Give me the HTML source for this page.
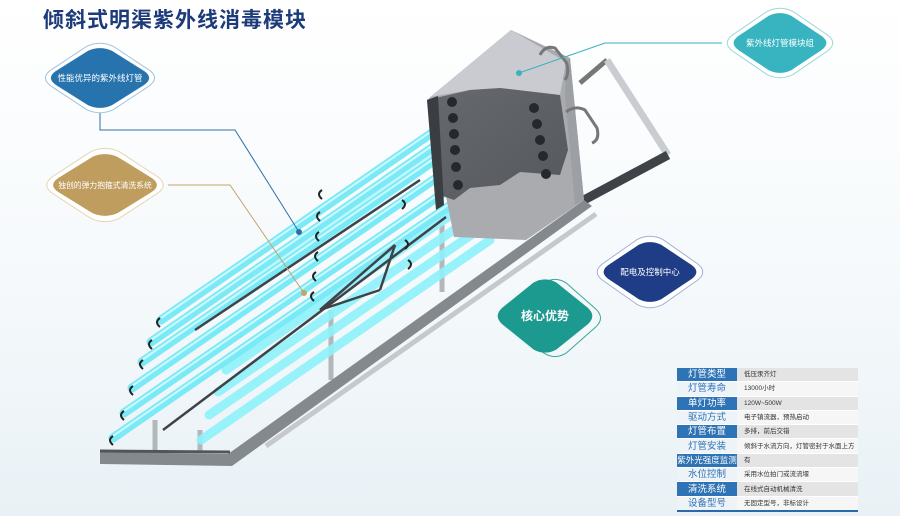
<!DOCTYPE html>
<html><head><meta charset="utf-8"><style>
body{margin:0;width:900px;height:516px;overflow:hidden;background:linear-gradient(180deg,#ffffff 0%,#f5f9fb 55%,#e9f1f6 100%);font-family:"Liberation Sans","Noto Sans CJK SC",sans-serif;position:relative}
.t{position:absolute;left:43px;top:4px;font-size:21px;font-weight:bold;color:#1d3a7a;letter-spacing:1px}
table{position:absolute;left:677px;top:368px;width:181px;border-collapse:collapse;border-bottom:2px solid #2a6aa8}
td{height:13.3px;padding:0;border-bottom:1px solid #fff;white-space:nowrap;line-height:13px}
td.l{width:60px;text-align:center;color:#fff;background:#2e73b5;font-size:9.5px}
td.r{padding-left:7px;color:#333;background:#e4e4e4;font-size:6.5px}
tr:nth-child(even) td.l{background:#eef3f8;color:#2e73b5}
tr:nth-child(even) td.r{background:#f6f6f6}
</style></head><body>
<svg width="900" height="516" style="position:absolute;left:0;top:0">
<defs>
<path id="d" vector-effect="non-scaling-stroke" d="M-0.82,-0.22 Q-1,0 -0.82,0.22 L-0.22,0.88 Q0,1.05 0.22,0.88 L0.82,0.22 Q1,0 0.82,-0.22 L0.22,-0.88 Q0,-1.05 -0.22,-0.88 Z"/>
<linearGradient id="box" x1="0" y1="0" x2="1" y2="1"><stop offset="0" stop-color="#66696e"/><stop offset="1" stop-color="#55585d"/></linearGradient>
</defs>
<!-- right frame -->
<line x1="580" y1="83" x2="607" y2="60" stroke="#777" stroke-width="5"/>
<line x1="607" y1="60" x2="668" y2="155" stroke="#c9ccd0" stroke-width="7"/>
<line x1="584" y1="200" x2="668" y2="155" stroke="#3f4246" stroke-width="9"/>
<!-- legs -->
<g stroke="#b3b7bb" stroke-width="5"><line x1="331" y1="310" x2="331" y2="380"/><line x1="442" y1="225" x2="442" y2="292"/><line x1="155" y1="420" x2="155" y2="452"/><line x1="200" y1="430" x2="200" y2="452"/></g>
<!-- tubes -->
<g stroke="#8ef2fb" stroke-width="9" stroke-linecap="round" opacity=".9">
<line x1="201" y1="440" x2="490" y2="240"/><line x1="209" y1="415" x2="490" y2="222"/><line x1="218" y1="392" x2="490" y2="205"/><line x1="226" y1="370" x2="490" y2="188"/>
</g>
<g stroke="#b4f7fc" stroke-width="4" opacity=".8">
<line x1="240" y1="300" x2="440" y2="160"/><line x1="250" y1="280" x2="440" y2="150"/><line x1="230" y1="320" x2="440" y2="175"/>
</g>
<g stroke="#6ee9f6" stroke-width="9" stroke-linecap="round" opacity=".9">
<line x1="113" y1="438" x2="455" y2="202"/><line x1="124" y1="413" x2="455" y2="185"/><line x1="132" y1="388" x2="455" y2="165"/><line x1="142" y1="362" x2="455" y2="146"/><line x1="151" y1="342" x2="455" y2="132"/><line x1="161" y1="320" x2="455" y2="117"/>
</g>
<g stroke="#d8fbff" stroke-width="2" opacity=".9">
<line x1="113" y1="436" x2="455" y2="200"/><line x1="124" y1="411" x2="455" y2="183"/><line x1="132" y1="386" x2="455" y2="163"/><line x1="142" y1="360" x2="455" y2="144"/><line x1="151" y1="340" x2="455" y2="130"/><line x1="161" y1="318" x2="455" y2="115"/>
</g>
<!-- rods -->
<g stroke="#3e4348" stroke-width="2.5"><line x1="163" y1="430" x2="446" y2="217"/><line x1="195" y1="330" x2="420" y2="180"/><line x1="320" y1="310" x2="380" y2="290"/><line x1="320" y1="310" x2="395" y2="245"/><line x1="380" y1="290" x2="395" y2="245"/></g>
<!-- clips -->
<g stroke="#222" stroke-width="2" fill="none">
<path d="M322,190 q-6,4 0,9"/><path d="M320,212 q-6,4 0,9"/><path d="M319,232 q-6,4 0,9"/><path d="M318,252 q-6,4 0,9"/><path d="M316,272 q-6,4 0,9"/><path d="M314,292 q-6,4 0,9"/>
<path d="M160,318 q-6,4 0,9"/><path d="M152,340 q-6,4 0,9"/><path d="M143,360 q-6,4 0,9"/><path d="M133,386 q-6,4 0,9"/><path d="M124,411 q-6,4 0,9"/><path d="M113,436 q-6,4 0,9"/>
<path d="M405,240 q6,4 0,9"/><path d="M408,260 q6,4 0,9"/><path d="M402,200 q6,4 0,9"/>
</g>
<!-- front rails -->
<polygon points="100,452 228,454 584,200 592,206 232,466 100,464" fill="#84898e"/>
<line x1="100" y1="451" x2="230" y2="452" stroke="#555" stroke-width="3"/>
<line x1="266" y1="446" x2="596" y2="214" stroke="#c6c9cc" stroke-width="5"/>
<!-- box -->
<polygon points="427,100 511,30 570,58 584,200 526,240 454,237" fill="#a9abaf"/>
<polygon points="430,97 511,30 566,62 560,95 500,88 470,90" fill="#c9cbd0"/>
<polygon points="566,62 570,58 584,200 575,205 565,95" fill="#9c9fa3"/>
<polygon points="427,100 470,90 500,88 560,95 568,150 560,175 520,172 500,185 470,188 454,200 440,195" fill="url(#box)"/>
<polygon points="427,100 438,96 444,205 436,210" fill="#3a3d41"/>
<g fill="#26292c"><circle cx="452" cy="102" r="5"/><circle cx="453" cy="118" r="5"/><circle cx="454" cy="134" r="5"/><circle cx="455" cy="150" r="5"/><circle cx="456" cy="167" r="5"/><circle cx="458" cy="185" r="5"/>
<circle cx="534" cy="108" r="5"/><circle cx="537" cy="124" r="5"/><circle cx="540" cy="140" r="5"/><circle cx="543" cy="156" r="5"/><circle cx="546" cy="174" r="5"/></g>
<path d="M540,55 Q545,45 555,48 L566,62 Q570,72 565,80" stroke="#777" stroke-width="3" fill="none"/>
<path d="M566,112 Q575,105 585,110 L597,128 Q600,140 592,143" stroke="#777" stroke-width="3" fill="none"/>
<!-- connectors -->
<polyline points="100,110 100,130 235,130 299,232" stroke="#2f6fa8" stroke-width="1" fill="none"/>
<circle cx="299" cy="232" r="3" fill="#2f6fa8"/>
<polyline points="168,185 230,185 304,293" stroke="#c2a56a" stroke-width="1" fill="none"/>
<circle cx="304" cy="293" r="3" fill="#c2a56a"/>
<polyline points="722,43 605,43 519,73" stroke="#3ab2c0" stroke-width="1" fill="none"/>
<circle cx="519" cy="73" r="3" fill="#3ab2c0"/>
<!-- nodes -->
<g font-size="8.5" fill="#fff" text-anchor="middle">
<use href="#d" transform="translate(100,78) scale(60,36)" fill="#fff" stroke="#9fc4e2" stroke-width="1"/>
<use href="#d" transform="translate(100,78) scale(54,31)" fill="#2773ad" stroke="none"/>
<text x="100" y="81">性能优异的紫外线灯管</text>
<use href="#d" transform="translate(105,185) scale(64,38)" fill="#fff" stroke="#e5d5b0" stroke-width="1"/>
<use href="#d" transform="translate(105,185) scale(57,32)" fill="#bf9d5e" stroke="none"/>
<text x="105" y="188" font-size="7.8">独创的弹力抱箍式清洗系统</text>
<use href="#d" transform="translate(780,43) scale(58,36)" fill="#fff" stroke="#9cd8df" stroke-width="1"/>
<use href="#d" transform="translate(780,43) scale(51,31)" fill="#38b4c0" stroke="none"/>
<text x="780" y="46">紫外线灯管模块组</text>
<use href="#d" transform="translate(650,272) scale(58,37)" fill="#fff" stroke="#9fb1d6" stroke-width="1"/>
<use href="#d" transform="translate(650,272) scale(51,31)" fill="#1f3d86" stroke="none"/>
<text x="650" y="275">配电及控制中心</text>
<use href="#d" transform="translate(555,318) scale(50,40)" fill="none" stroke="#3aa59c" stroke-width="1"/>
<use href="#d" transform="translate(545,316) scale(52,38)" fill="#1d9a90" stroke="none"/>
<text x="545" y="320" font-size="12" font-weight="bold">核心优势</text>
</g>
</svg>
<div class="t">倾斜式明渠紫外线消毒模块</div>
<table>
<tr><td class="l">灯管类型</td><td class="r">低压汞齐灯</td></tr>
<tr><td class="l">灯管寿命</td><td class="r">13000小时</td></tr>
<tr><td class="l">单灯功率</td><td class="r">120W~500W</td></tr>
<tr><td class="l">驱动方式</td><td class="r">电子镇流器，预热启动</td></tr>
<tr><td class="l">灯管布置</td><td class="r">多排，前后交错</td></tr>
<tr><td class="l">灯管安装</td><td class="r">倾斜于水流方向，灯管密封于水面上方</td></tr>
<tr><td class="l" style="font-size:8.5px">紫外光强度监测</td><td class="r">有</td></tr>
<tr><td class="l">水位控制</td><td class="r">采用水位拍门或流流堰</td></tr>
<tr><td class="l">清洗系统</td><td class="r">在线式自动机械清洗</td></tr>
<tr><td class="l">设备型号</td><td class="r">无固定型号，非标设计</td></tr>
</table>
</body></html>
